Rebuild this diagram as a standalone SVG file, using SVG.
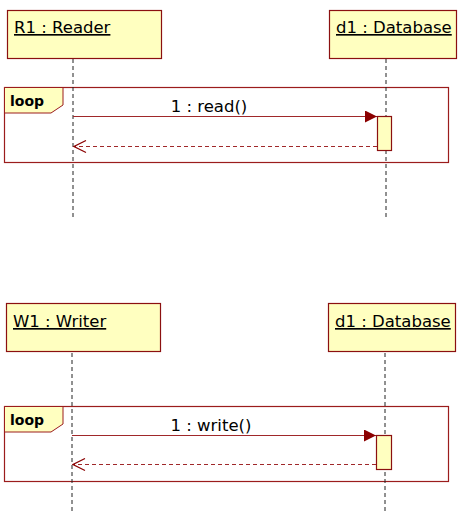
<svg xmlns="http://www.w3.org/2000/svg" width="465" height="525" viewBox="0 0 465 525">
<defs>
<style>
.box{fill:#ffffc0;stroke:#8b1010;stroke-width:1.2}
.lbl{font-family:"DejaVu Sans",Verdana,sans-serif;font-size:16.5px;fill:#000;text-decoration:underline}
.life{stroke:#222;stroke-width:1;stroke-dasharray:4 3;fill:none}
.frame{fill:none;stroke:#9b1c1c;stroke-width:1.2}
.tab{fill:#ffffc0;stroke:#9b1c1c;stroke-width:1}
.loop{font-family:"DejaVu Sans",Verdana,sans-serif;font-size:14px;font-weight:bold;fill:#000}
.msg{stroke:#a0282a;stroke-width:1.2;fill:none}
.ret{stroke:#a0282a;stroke-width:1.2;fill:none;stroke-dasharray:4 3}
.mtxt{font-family:"DejaVu Sans",Verdana,sans-serif;font-size:16.5px;fill:#000;text-anchor:middle}
.act{fill:#ffffc0;stroke:#8b1010;stroke-width:1.2}
</style>
<marker id="filled" markerWidth="12" markerHeight="12" refX="12" refY="6" orient="auto" markerUnits="userSpaceOnUse">
<path d="M0,0 L12,6 L0,12 Z" fill="#8b0000"/>
</marker>
<marker id="open" markerWidth="14" markerHeight="14" refX="13" refY="7" orient="auto" markerUnits="userSpaceOnUse">
<path d="M1,1 L13,7 L1,13" fill="none" stroke="#8b0000" stroke-width="1.2"/>
</marker>
</defs>

<g id="frames">
<g id="loop1">
<rect class="frame" x="4.5" y="87.5" width="444" height="75"/>
<path class="tab" d="M4.5,87.5 H63 V105 L51,113 H4.5 Z"/>
<text class="loop" x="10" y="106">loop</text>
</g>
<g id="loop2">
<rect class="frame" x="4.5" y="406.5" width="444" height="75"/>
<path class="tab" d="M4.5,406.5 H63 V424 L51,432 H4.5 Z"/>
<text class="loop" x="10" y="425">loop</text>
</g>
</g>

<g id="lifelines">
<line class="life" x1="73" y1="59" x2="73" y2="219"/>
<line class="life" x1="386" y1="59" x2="386" y2="219"/>
<line class="life" x1="72" y1="353" x2="72" y2="513"/>
<line class="life" x1="385" y1="353" x2="385" y2="513"/>
</g>

<g id="R1">
<rect class="box" x="7.5" y="10.5" width="154" height="48"/>
<text class="lbl" x="14" y="33">R1 : Reader</text>
</g>
<g id="d1_top">
<rect class="box" x="329.5" y="10.5" width="127" height="48"/>
<text class="lbl" x="336" y="33">d1 : Database</text>
</g>
<g id="W1">
<rect class="box" x="6.5" y="303.5" width="154" height="48"/>
<text class="lbl" x="13" y="327">W1 : Writer</text>
</g>
<g id="d1_bottom">
<rect class="box" x="328.5" y="303.5" width="127" height="48"/>
<text class="lbl" x="335" y="327">d1 : Database</text>
</g>

<g id="activations">
<rect class="act" x="377.5" y="116.5" width="14" height="34"/>
<rect class="act" x="376.5" y="435.5" width="15" height="34"/>
</g>

<g id="connectors">
<line class="msg" x1="73" y1="116.5" x2="377" y2="116.5" marker-end="url(#filled)"/>
<text class="mtxt" x="209" y="112">1 : read()</text>
<line class="ret" x1="377" y1="146.5" x2="74" y2="146.5" marker-end="url(#open)"/>
<line class="msg" x1="72" y1="435.5" x2="376" y2="435.5" marker-end="url(#filled)"/>
<text class="mtxt" x="211" y="431">1 : write()</text>
<line class="ret" x1="376" y1="464.5" x2="73" y2="464.5" marker-end="url(#open)"/>
</g>
</svg>
